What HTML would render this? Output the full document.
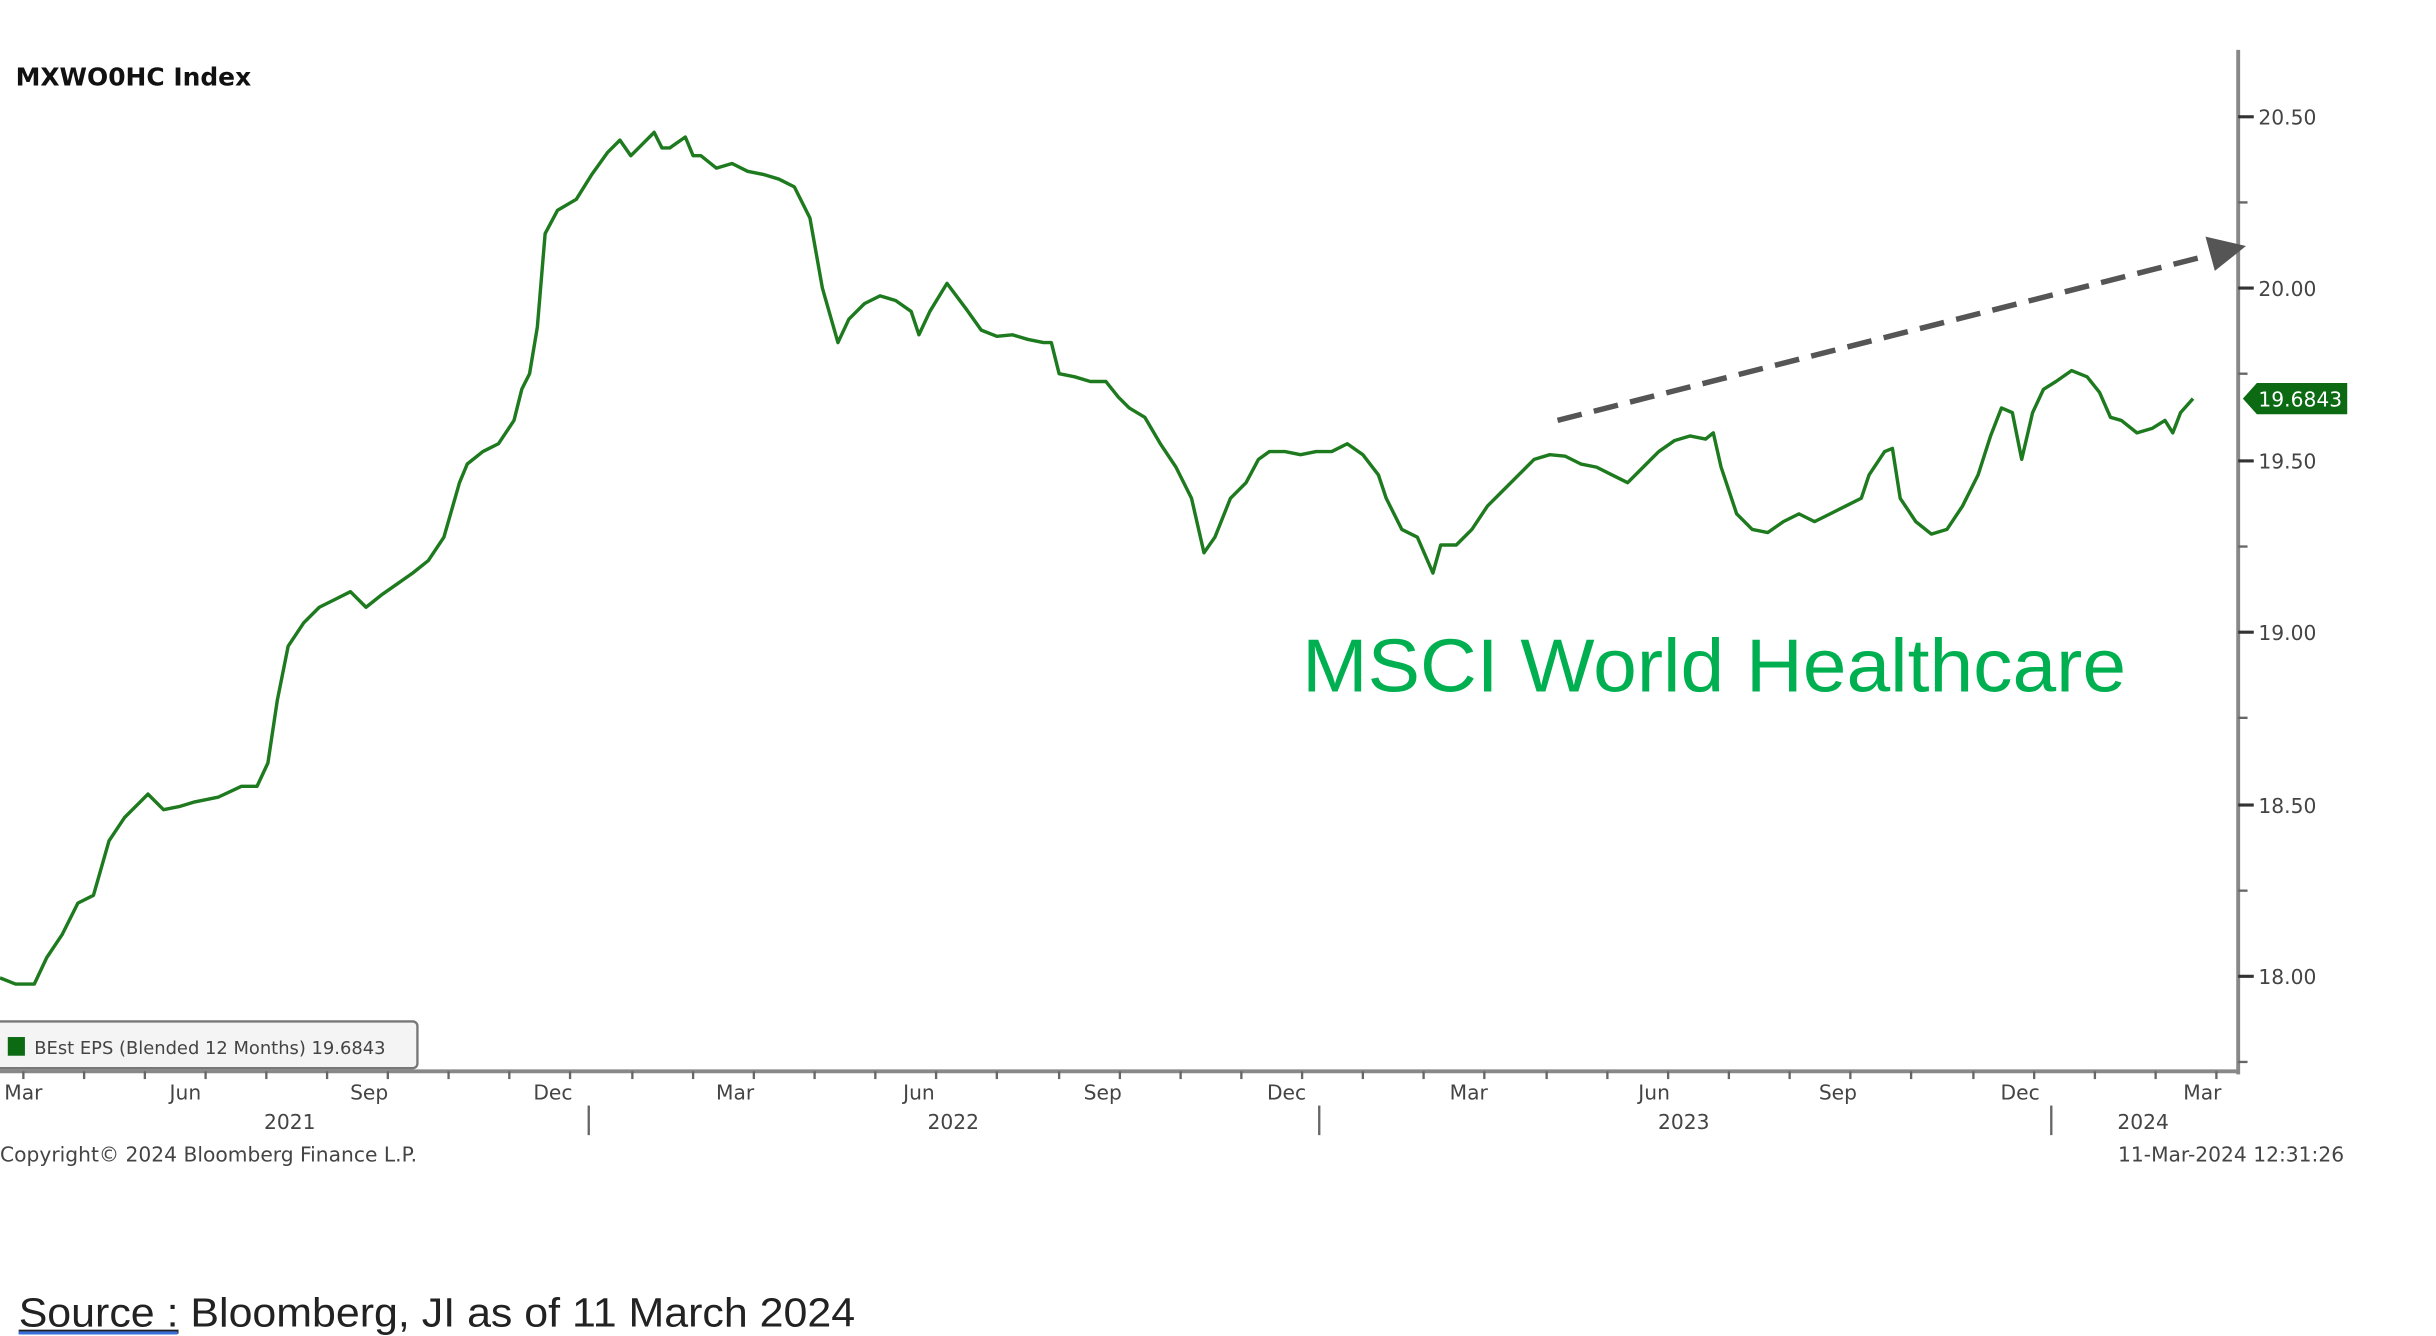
<!DOCTYPE html>
<html><head><meta charset="utf-8"><style>
html,body{margin:0;padding:0;background:#fff;width:2436px;height:1336px;overflow:hidden}
svg{display:block}
</style></head><body>
<svg width="2436" height="1336" viewBox="0 0 1564 858" preserveAspectRatio="none" xmlns="http://www.w3.org/2000/svg">
<rect width="1564" height="858" fill="#fff"/>
<text x="10" y="55" font-family="'DejaVu Sans','Liberation Sans',sans-serif" font-weight="bold" font-size="16" fill="#111">MXWO0HC Index</text>
<line x1="1437" y1="32" x2="1437" y2="690" stroke="#888" stroke-width="2.5"/>
<line x1="0" y1="688" x2="1438" y2="688" stroke="#888" stroke-width="2.5"/>
<g stroke="#333" stroke-width="2">
<line x1="1437" y1="75" x2="1447" y2="75"/><line x1="1437" y1="185" x2="1447" y2="185"/>
<line x1="1437" y1="296" x2="1447" y2="296"/><line x1="1437" y1="406" x2="1447" y2="406"/>
<line x1="1437" y1="517" x2="1447" y2="517"/><line x1="1437" y1="627" x2="1447" y2="627"/>
</g>
<g stroke="#666" stroke-width="1.5">
<line x1="1437" y1="130" x2="1443" y2="130"/><line x1="1437" y1="240" x2="1443" y2="240"/>
<line x1="1437" y1="351" x2="1443" y2="351"/><line x1="1437" y1="461" x2="1443" y2="461"/>
<line x1="1437" y1="572" x2="1443" y2="572"/><line x1="1437" y1="682" x2="1443" y2="682"/>
</g>
<g font-family="'DejaVu Sans','Liberation Sans',sans-serif" font-size="13" fill="#444">
<text x="1450" y="80">20.50</text><text x="1450" y="190">20.00</text>
<text x="1450" y="301">19.50</text><text x="1450" y="411">19.00</text>
<text x="1450" y="522">18.50</text><text x="1450" y="632">18.00</text>
</g>
<polygon points="1440,256 1449,246 1507,246 1507,266 1449,266" fill="#0b6a12"/>
<text x="1450" y="261" font-family="'DejaVu Sans','Liberation Sans',sans-serif" font-size="13" fill="#fff">19.6843</text>
<g stroke="#666" stroke-width="1.5">
<line x1="15" y1="688" x2="15" y2="693"/><line x1="54" y1="688" x2="54" y2="693"/><line x1="93" y1="688" x2="93" y2="693"/>
<line x1="132" y1="688" x2="132" y2="693"/><line x1="171" y1="688" x2="171" y2="693"/><line x1="210" y1="688" x2="210" y2="693"/>
<line x1="249" y1="688" x2="249" y2="693"/><line x1="288" y1="688" x2="288" y2="693"/><line x1="327" y1="688" x2="327" y2="693"/>
<line x1="366" y1="688" x2="366" y2="693"/><line x1="406" y1="688" x2="406" y2="693"/><line x1="445" y1="688" x2="445" y2="693"/>
<line x1="484" y1="688" x2="484" y2="693"/><line x1="523" y1="688" x2="523" y2="693"/><line x1="562" y1="688" x2="562" y2="693"/>
<line x1="601" y1="688" x2="601" y2="693"/><line x1="640" y1="688" x2="640" y2="693"/><line x1="680" y1="688" x2="680" y2="693"/>
<line x1="719" y1="688" x2="719" y2="693"/><line x1="758" y1="688" x2="758" y2="693"/><line x1="797" y1="688" x2="797" y2="693"/>
<line x1="836" y1="688" x2="836" y2="693"/><line x1="875" y1="688" x2="875" y2="693"/><line x1="914" y1="688" x2="914" y2="693"/>
<line x1="953" y1="688" x2="953" y2="693"/><line x1="993" y1="688" x2="993" y2="693"/><line x1="1032" y1="688" x2="1032" y2="693"/>
<line x1="1071" y1="688" x2="1071" y2="693"/><line x1="1110" y1="688" x2="1110" y2="693"/><line x1="1149" y1="688" x2="1149" y2="693"/>
<line x1="1188" y1="688" x2="1188" y2="693"/><line x1="1227" y1="688" x2="1227" y2="693"/><line x1="1267" y1="688" x2="1267" y2="693"/>
<line x1="1306" y1="688" x2="1306" y2="693"/><line x1="1345" y1="688" x2="1345" y2="693"/><line x1="1384" y1="688" x2="1384" y2="693"/>
<line x1="1423" y1="688" x2="1423" y2="693"/>
<line x1="378" y1="710" x2="378" y2="729"/><line x1="847" y1="710" x2="847" y2="729"/><line x1="1317" y1="710" x2="1317" y2="729"/>
</g>
<g font-family="'DejaVu Sans','Liberation Sans',sans-serif" font-size="13" fill="#444" text-anchor="middle">
<text x="15" y="706">Mar</text><text x="119" y="706">Jun</text><text x="237" y="706">Sep</text><text x="355" y="706">Dec</text>
<text x="472" y="706">Mar</text><text x="590" y="706">Jun</text><text x="708" y="706">Sep</text><text x="826" y="706">Dec</text>
<text x="943" y="706">Mar</text><text x="1062" y="706">Jun</text><text x="1180" y="706">Sep</text><text x="1297" y="706">Dec</text>
<text x="1414" y="706">Mar</text>
<text x="186" y="725">2021</text><text x="612" y="725">2022</text><text x="1081" y="725">2023</text><text x="1376" y="725">2024</text>
</g>
<text x="0" y="746" font-family="'DejaVu Sans','Liberation Sans',sans-serif" font-size="13" fill="#444">Copyright© 2024 Bloomberg Finance L.P.</text>
<text x="1505" y="746" text-anchor="end" font-family="'DejaVu Sans','Liberation Sans',sans-serif" font-size="13" fill="#444">11-Mar-2024 12:31:26</text>
<polyline fill="none" stroke="#1e7a1e" stroke-width="2.2" stroke-linejoin="round" points="0,628 10,632 22,632 30,615 40,600 50,580 60,575 70,540 80,525 90,515 95,510 105,520 115,518 125,515 140,512 155,505 165,505 172,490 178,450 185,415 195,400 205,390 215,385 225,380 235,390 245,382 255,375 265,368 275,360 285,345 295,310 300,298 310,290 320,285 330,270 335,250 340,240 345,210 350,150 358,135 370,128 380,112 390,98 398,90 405,100 410,95 420,85 425,95 430,95 440,88 445,100 450,100 460,108 470,105 480,110 490,112 500,115 510,120 520,140 528,185 538,220 545,205 555,195 565,190 575,193 585,200 590,215 597,200 608,182 620,198 630,212 640,216 650,215 660,218 670,220 675,220 680,240 690,242 700,245 710,245 718,255 725,262 735,268 745,285 755,300 765,320 773,355 780,345 790,320 800,310 808,295 815,290 825,290 835,292 845,290 855,290 865,285 875,292 885,305 890,320 900,340 910,345 920,368 925,350 935,350 945,340 955,325 965,315 975,305 985,295 995,292 1005,293 1015,298 1025,300 1035,305 1045,310 1055,300 1065,290 1075,283 1085,280 1095,282 1100,278 1105,300 1115,330 1125,340 1135,342 1145,335 1155,330 1165,335 1175,330 1185,325 1195,320 1200,305 1210,290 1215,288 1220,320 1230,335 1240,343 1250,340 1260,325 1270,305 1278,280 1285,262 1292,265 1298,295 1305,265 1312,250 1320,245 1330,238 1340,242 1348,252 1355,268 1362,270 1372,278 1382,275 1390,270 1395,278 1400,265 1408,256"/>
<line x1="1000" y1="270" x2="1418" y2="164" stroke="#555" stroke-width="3.5" stroke-dasharray="16,8"/>
<polygon points="1442,158 1416,152 1422,174" fill="#555"/>
<text x="836" y="444" font-family="'Liberation Sans',sans-serif" font-size="48" fill="#00b050" textLength="529" lengthAdjust="spacingAndGlyphs">MSCI World Healthcare</text>
<rect x="-4" y="656" width="272" height="30" rx="3" fill="#f4f4f4" stroke="#777" stroke-width="1.5"/>
<rect x="5" y="666" width="11" height="12" fill="#0b6a12"/>
<text x="22" y="677" font-family="'DejaVu Sans','Liberation Sans',sans-serif" font-size="11.5" fill="#444">BEst EPS (Blended 12 Months)  19.6843</text>
<text x="12" y="852" font-family="'Liberation Sans',sans-serif" font-size="26" fill="#222" textLength="537" lengthAdjust="spacingAndGlyphs"><tspan text-decoration="underline">Source :</tspan> Bloomberg, JI as of 11 March 2024</text>
<line x1="12" y1="856" x2="114" y2="856" stroke="#3a6fd8" stroke-width="2"/>
</svg>
</body></html>
